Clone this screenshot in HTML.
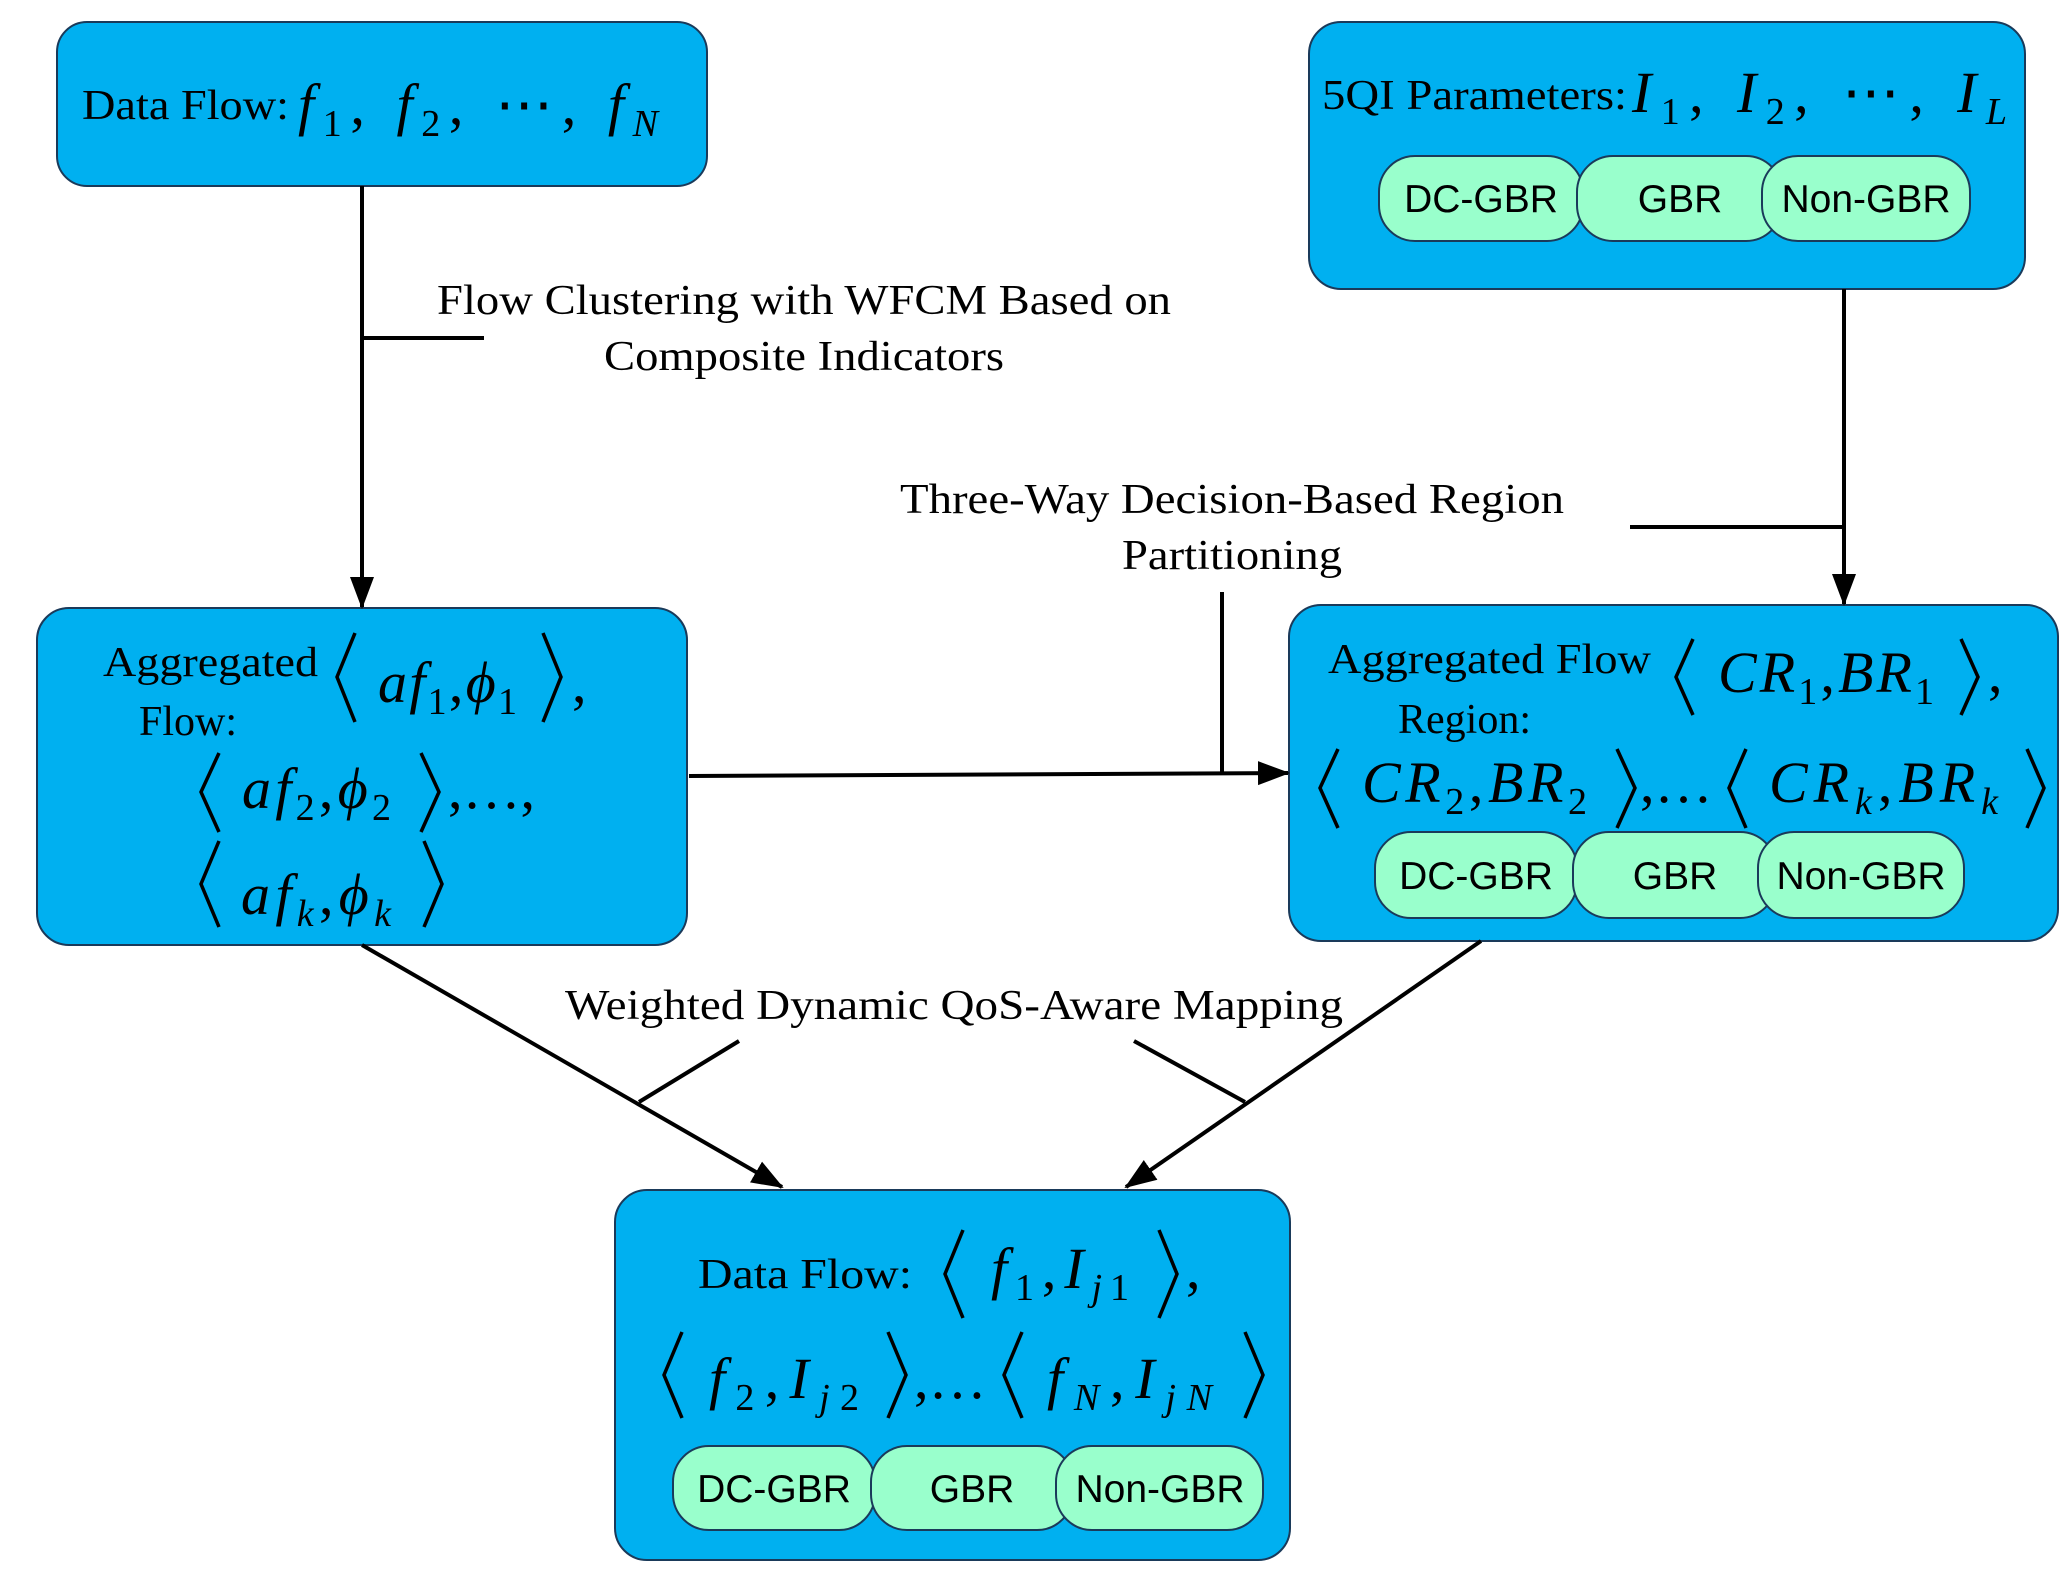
<!DOCTYPE html>
<html><head><meta charset="utf-8"><style>html,body{margin:0;padding:0;background:#fff}svg{display:block}</style></head>
<body>
<svg width="2071" height="1578" viewBox="0 0 2071 1578" xmlns="http://www.w3.org/2000/svg">
<defs>
<marker id="a" markerWidth="32" markerHeight="32" refX="30" refY="16" orient="auto" markerUnits="userSpaceOnUse"><path d="M0,4 L32,16 L0,28 z" fill="#000"/></marker></defs>
<g fill="#00B0F0" stroke="#1a3a5a" stroke-width="2">
<rect x="57" y="22" width="650" height="164" rx="30"/>
<rect x="1309" y="22" width="716" height="267" rx="32"/>
<rect x="37" y="608" width="650" height="337" rx="32"/>
<rect x="1289" y="605" width="769" height="336" rx="32"/>
<rect x="615" y="1190" width="675" height="370" rx="32"/>
</g>
<g fill="#99FFCC" stroke="#1a3a5a" stroke-width="2">
<rect x="1379" y="156" width="204" height="85" rx="36"/>
<rect x="1577" y="156" width="205" height="85" rx="36"/>
<rect x="1762" y="156" width="208" height="85" rx="36"/>
<rect x="1375" y="832" width="202" height="86" rx="36"/>
<rect x="1573" y="832" width="203" height="86" rx="36"/>
<rect x="1758" y="832" width="206" height="86" rx="36"/>
<rect x="673" y="1446" width="202" height="84" rx="36"/>
<rect x="871" y="1446" width="202" height="84" rx="36"/>
<rect x="1056" y="1446" width="207" height="84" rx="36"/>
</g>
<g font-family="Liberation Sans, sans-serif" font-size="39" text-anchor="middle" fill="#000">
<text x="1481" y="212">DC-GBR</text><text x="1680" y="212">GBR</text><text x="1866" y="212">Non-GBR</text>
<text x="1476" y="889">DC-GBR</text><text x="1675" y="889">GBR</text><text x="1861" y="889">Non-GBR</text>
<text x="774" y="1502">DC-GBR</text><text x="972" y="1502">GBR</text><text x="1160" y="1502">Non-GBR</text>
</g>
<g stroke="#000" stroke-width="4" fill="none">
<line x1="362" y1="186" x2="362" y2="607" marker-end="url(#a)"/>
<line x1="362" y1="338" x2="484" y2="338"/>
<line x1="1844" y1="289" x2="1844" y2="604" marker-end="url(#a)"/>
<line x1="1630" y1="527" x2="1844" y2="527"/>
<line x1="689" y1="776" x2="1288" y2="773" marker-end="url(#a)"/>
<line x1="1222" y1="592" x2="1222" y2="773"/>
<line x1="362" y1="945" x2="782" y2="1187" marker-end="url(#a)"/>
<line x1="639" y1="1102" x2="739" y2="1041"/>
<line x1="1481" y1="941" x2="1126" y2="1187" marker-end="url(#a)"/>
<line x1="1245" y1="1102" x2="1134" y2="1041"/>
</g>
<g font-family="Liberation Serif, serif" font-size="42" fill="#000">
<text x="804" y="314" text-anchor="middle" textLength="734" lengthAdjust="spacingAndGlyphs">Flow Clustering with WFCM Based on</text>
<text x="804" y="370" text-anchor="middle" textLength="400" lengthAdjust="spacingAndGlyphs">Composite Indicators</text>
<text x="1232" y="513" text-anchor="middle" textLength="664" lengthAdjust="spacingAndGlyphs">Three-Way Decision-Based Region</text>
<text x="1232" y="569" text-anchor="middle" textLength="220" lengthAdjust="spacingAndGlyphs">Partitioning</text>
<text x="954" y="1019" text-anchor="middle" textLength="778" lengthAdjust="spacingAndGlyphs">Weighted Dynamic QoS-Aware Mapping</text>
<text x="82" y="119" textLength="207" lengthAdjust="spacingAndGlyphs">Data Flow:</text>
<text x="1322" y="109" textLength="305" lengthAdjust="spacingAndGlyphs">5QI Parameters:</text>
<text x="103" y="676" textLength="215" lengthAdjust="spacingAndGlyphs">Aggregated</text>
<text x="139" y="735">Flow:</text>
<text x="1328" y="673" textLength="323" lengthAdjust="spacingAndGlyphs">Aggregated Flow</text>
<text x="1398" y="733">Region:</text>
<text x="698" y="1288" textLength="214" lengthAdjust="spacingAndGlyphs">Data Flow:</text>
</g>
<g font-family="Liberation Serif, serif" font-size="58" fill="#000">
<text x="298" y="124" font-style="italic" textLength="360" lengthAdjust="spacing">f<tspan font-size="38" dy="12" font-style="normal">1</tspan><tspan dy="-12" font-style="normal">,  </tspan>f<tspan font-size="38" dy="12" font-style="normal">2</tspan><tspan dy="-12" font-style="normal">,  ⋯,  </tspan>f<tspan font-size="38" dy="12">N</tspan></text>
<text x="1632" y="112" font-style="italic" textLength="375" lengthAdjust="spacing">I<tspan font-size="38" dy="12" font-style="normal">1</tspan><tspan dy="-12" font-style="normal">,   </tspan>I<tspan font-size="38" dy="12" font-style="normal">2</tspan><tspan dy="-12" font-style="normal">,    ⋯,   </tspan>I<tspan font-size="38" dy="12">L</tspan></text>
<text x="378" y="702" font-style="italic" textLength="139" lengthAdjust="spacing">af<tspan font-size="38" dy="12" font-style="normal">1</tspan><tspan dy="-12" font-style="normal">,</tspan>ϕ<tspan font-size="38" dy="12" font-style="normal">1</tspan></text>
<text x="572" y="702">,</text>
<text x="242" y="808" font-style="italic" textLength="149" lengthAdjust="spacing">af<tspan font-size="38" dy="12" font-style="normal">2</tspan><tspan dy="-12" font-style="normal">,</tspan>ϕ<tspan font-size="38" dy="12" font-style="normal">2</tspan></text>
<text x="448" y="808">,…,</text>
<text x="241" y="914" font-style="italic" textLength="150" lengthAdjust="spacing">af<tspan font-size="38" dy="12">k</tspan><tspan dy="-12" font-style="normal">,</tspan>ϕ<tspan font-size="38" dy="12">k</tspan></text>
<text x="1718" y="692" font-style="italic" textLength="216" lengthAdjust="spacing">CR<tspan font-size="38" dy="12" font-style="normal">1</tspan><tspan dy="-12" font-style="normal">,</tspan>BR<tspan font-size="38" dy="12" font-style="normal">1</tspan></text>
<text x="1988" y="692">,</text>
<text x="1362" y="802" font-style="italic" textLength="225" lengthAdjust="spacing">CR<tspan font-size="38" dy="12" font-style="normal">2</tspan><tspan dy="-12" font-style="normal">,</tspan>BR<tspan font-size="38" dy="12" font-style="normal">2</tspan></text>
<text x="1640" y="802">,…</text>
<text x="1769" y="802" font-style="italic" textLength="229" lengthAdjust="spacing">CR<tspan font-size="38" dy="12">k</tspan><tspan dy="-12" font-style="normal">,</tspan>BR<tspan font-size="38" dy="12">k</tspan></text>
<text x="991" y="1288" font-style="italic" textLength="138" lengthAdjust="spacing">f<tspan font-size="38" dy="12" font-style="normal">1</tspan><tspan dy="-12" font-style="normal">,</tspan>I<tspan font-size="38" dy="12">j</tspan><tspan font-size="38" font-style="normal">1</tspan></text>
<text x="1186" y="1288">,</text>
<text x="709" y="1398" font-style="italic" textLength="150" lengthAdjust="spacing">f<tspan font-size="38" dy="12" font-style="normal">2</tspan><tspan dy="-12" font-style="normal">,</tspan>I<tspan font-size="38" dy="12">j</tspan><tspan font-size="38" font-style="normal">2</tspan></text>
<text x="914" y="1398">,…</text>
<text x="1047" y="1398" font-style="italic" textLength="165" lengthAdjust="spacing">f<tspan font-size="38" dy="12">N</tspan><tspan dy="-12" font-style="normal">,</tspan>I<tspan font-size="38" dy="12">jN</tspan></text>
</g>
<g stroke="#000" stroke-width="3.5" fill="none">
<polyline points="355,633 337,677 355,722"/><polyline points="543,633 561,677 543,722"/>
<polyline points="219,753 201,792 219,832"/><polyline points="421,753 439,792 421,832"/>
<polyline points="219,841 201,884 219,927"/><polyline points="424,841 442,884 424,927"/>
<polyline points="1693,639 1676,677 1693,715"/><polyline points="1961,639 1978,677 1961,715"/>
<polyline points="1338,749 1320,788 1338,828"/><polyline points="1617,749 1635,788 1617,828"/>
<polyline points="1746,749 1729,788 1746,828"/><polyline points="2027,749 2044,788 2027,828"/>
<polyline points="963,1230 945,1274 963,1318"/><polyline points="1159,1230 1177,1274 1159,1318"/>
<polyline points="682,1332 664,1375 682,1418"/><polyline points="888,1332 906,1375 888,1418"/>
<polyline points="1022,1332 1004,1375 1022,1418"/><polyline points="1245,1332 1263,1375 1245,1418"/>
</g>
</svg>
</body></html>
